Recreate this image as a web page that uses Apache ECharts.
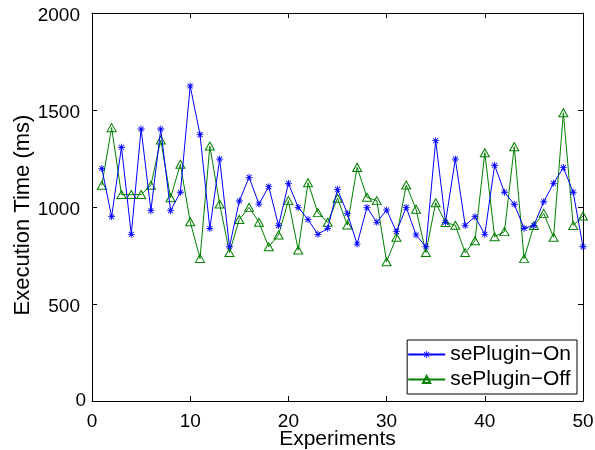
<!DOCTYPE html>
<html><head><meta charset="utf-8">
<script src="https://cdn.jsdelivr.net/npm/echarts@6/dist/echarts.min.js"></script>
<style>html,body{margin:0;padding:0;background:#fff}#c{width:595px;height:450px}</style>
</head><body><div id="c"></div>
<script>
const experiments = [1,2,3,4,5,6,7,8,9,10,11,12,13,14,15,16,17,18,19,20,21,22,23,24,25,26,27,28,29,30,31,32,33,34,35,36,37,38,39,40,41,42,43,44,45,46,47,48,49,50];
const pluginOn = [1199,950,1308,859,1402,981,1402,981,1076,1624,1373,889,1247,795,1031,1153,1015,1105,904,1122,998,936,859,890,1091,967,809,998,921,985,873,998,856,795,1342,921,1247,905,950,859,1215,1076,1014,890,905,1027,1122,1203,1076,795];
const pluginOff = [1112,1409,1064,1064,1064,1112,1345,1048,1220,924,735,1314,1015,765,936,998,921,795,856,1033,778,1125,971,921,1045,907,1204,1050,1033,718,844,1113,988,765,1022,920,906,765,826,1280,847,873,1311,734,905,967,844,1486,905,954];
const xTicks = [0,10,20,30,40,50];
const yTicks = [0,500,1000,1500,2000];
const seriesNames = ['sePlugin\u2212On','sePlugin\u2212Off'];

const font = 'Liberation Sans, Arial, Helvetica, sans-serif';
// asterisk symbol built from 4 thin bars
const ast = 'path://M-0.12,-1L0.12,-1L0.12,1L-0.12,1Z M-1,-0.12L1,-0.12L1,0.12L-1,0.12Z M-0.79,-0.62L-0.62,-0.79L0.79,0.62L0.62,0.79Z M0.62,-0.79L0.79,-0.62L-0.62,0.79L-0.79,0.62Z';

const chart = echarts.init(document.getElementById('c'), null, {renderer:'canvas'});
const tickStyle = {inside:true, length:5, lineStyle:{color:'#000', width:1}};
const lineSt = {onZero:false, lineStyle:{color:'#000', width:1}};
const baseX = {type:'value', min:xTicks[0], max:xTicks[xTicks.length-1], interval:10, splitLine:{show:false},
  axisLine:lineSt, axisTick:tickStyle};
const baseY = {type:'value', min:yTicks[0], max:yTicks[yTicks.length-1], interval:500, splitLine:{show:false},
  axisLine:lineSt, axisTick:tickStyle};
chart.setOption({
  animation:false,
  backgroundColor:'#fff',
  grid:{left:92, top:13, width:491, height:388, containLabel:false, outerBoundsMode:'none'},
  xAxis:[
    Object.assign({}, baseX, {position:'bottom', name:'Experiments', nameLocation:'middle', nameGap:28, nameMoveOverlap:false,
      nameTextStyle:{fontFamily:font, fontSize:21, color:'#000'},
      axisLabel:{fontFamily:font, fontSize:19, color:'#000', margin:11, formatter:v=>String(v)}}),
    Object.assign({}, baseX, {position:'top', axisLabel:{show:false}})
  ],
  yAxis:[
    Object.assign({}, baseY, {position:'left', name:'Execution Time (ms)', nameLocation:'middle', nameGap:58, nameRotate:90, nameMoveOverlap:false,
      nameTextStyle:{fontFamily:font, fontSize:22, color:'#000', padding:[0,16,0,0]},
      axisLabel:{fontFamily:font, fontSize:19, color:'#000', margin:6,
        formatter:v=> v===0 ? '{z|0}' : '{a|'+v+'}',
        rich:{a:{fontFamily:font, fontSize:19, color:'#000', padding:[6,6,0,0]},
              z:{fontFamily:font, fontSize:19, color:'#000', padding:[0,0,0,0]}}}}),
    Object.assign({}, baseY, {position:'right', axisLabel:{show:false}})
  ],
  legend:{
    orient:'vertical', right:18, top:340, backgroundColor:'#fff', borderColor:'#000', borderWidth:1,
    borderRadius:0, padding:[4,6,4,0], itemGap:4, itemWidth:37, itemHeight:9,
    textStyle:{fontFamily:font, fontSize:21, color:'#000'}
  },
  series:[
    {name:seriesNames[0], type:'line', data:experiments.map((x,i)=>[x,pluginOn[i]]),
     symbol:ast, symbolSize:7, showAllSymbol:true,
     lineStyle:{color:'#0000ff', width:1}, itemStyle:{color:'#0000ff', borderWidth:0}, z:3},
    {name:seriesNames[1], type:'line', data:experiments.map((x,i)=>[x,pluginOff[i]]),
     symbol:'triangle', symbolSize:[9,8], showAllSymbol:true,
     lineStyle:{color:'#008000', width:1}, itemStyle:{color:'rgba(255,255,255,0)', borderColor:'#008000', borderWidth:1}, z:2}
  ]
});
</script></body></html>
